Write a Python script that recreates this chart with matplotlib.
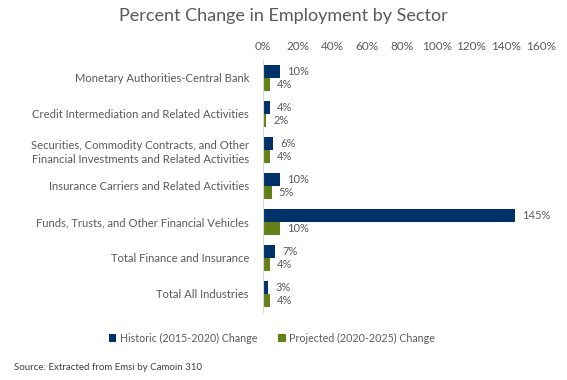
import matplotlib
matplotlib.use("Agg")
import matplotlib.pyplot as plt
import numpy as np
from matplotlib.ticker import FuncFormatter

categories = [
    "Monetary Authorities-Central Bank",
    "Credit Intermediation and Related Activities",
    "Securities, Commodity Contracts, and Other\nFinancial Investments and Related Activities",
    "Insurance Carriers and Related Activities",
    "Funds, Trusts, and Other Financial Vehicles",
    "Total Finance and Insurance",
    "Total All Industries",
]
historic = [10, 4, 6, 10, 145, 7, 3]
projected = [4, 2, 4, 5, 10, 4, 4]
series_names = ["Historic (2015-2020) Change", "Projected (2020-2025) Change"]
xticks = [0, 20, 40, 60, 80, 100, 120, 140, 160]

blue = "#00326A"
green = "#628219"
grey = "#595959"

plt.rcParams['font.family'] = ['Lato', 'DejaVu Sans']

fig = plt.figure(figsize=(5.67, 3.8), dpi=100)
ax = fig.add_axes([263/567, 1-312/380, (541-263)/567, (312-60)/380])

y = np.arange(len(categories))
h = 0.36
ax.barh(y - h/2, historic, height=h, color=blue, label=series_names[0])
ax.barh(y + h/2, projected, height=h, color=green, label=series_names[1])

for yi, v in zip(y, historic):
    ax.text(v + 4, yi - h/2, f"{v}%", va="center", ha="left", fontsize=8, color=grey)
for yi, v in zip(y, projected):
    ax.text(v + 4, yi + h/2, f"{v}%", va="center", ha="left", fontsize=8, color=grey)

ax.set_xlim(0, 160)
ax.set_ylim(len(categories) - 0.5, -0.5)
ax.set_xticks(xticks)
ax.xaxis.set_major_formatter(FuncFormatter(lambda v, p: f"{int(v)}%"))
ax.xaxis.tick_top()
ax.tick_params(axis="x", length=0, labelsize=8.5, colors=grey, pad=6)
ax.set_yticks(y)
ax.set_yticklabels(categories, fontsize=8.1, color=grey, linespacing=1.3)
ax.tick_params(axis="y", length=0, pad=10)
for s in ["top", "right", "bottom"]:
    ax.spines[s].set_visible(False)
ax.spines["left"].set_color("#D9D9D9")

fig.text(0.5, 1-16/380, "Percent Change in Employment by Sector", ha="center", va="center",
         fontsize=13, color=grey)

fig.legend(loc="center", bbox_to_anchor=(272/567, 1-338/380), ncol=2, frameon=False,
           fontsize=7.7, labelcolor=grey, handlelength=0.7, handleheight=0.7,
           handletextpad=0.3, columnspacing=2.0)

fig.text(14/567, 1-367/380, "Source: Extracted from Emsi by Camoin 310", ha="left", va="center",
         fontsize=7, color="#404040")

fig.savefig("out.png", dpi=100)
